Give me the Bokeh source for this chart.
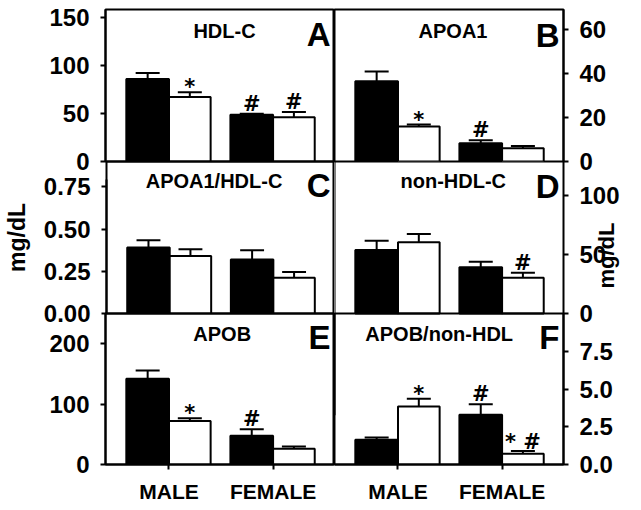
import math
from bokeh.plotting import figure
from bokeh.models import Range1d, FixedTicker, NumeralTickFormatter, Label, ColumnDataSource, Span
from bokeh.layouts import row, column
from bokeh.embed import file_html
from bokeh.resources import INLINE
from bokeh.core.properties import value
from bokeh.transform import dodge

groups = ["MALE", "FEMALE"]

# A: HDL-C
hdl_black = [85.8, 48.6]
hdl_black_sem = [6.2, 1.0]
hdl_white = [67.0, 46.0]
hdl_white_sem = [5.0, 5.5]
hdl_black_sig = ["", "#"]
hdl_white_sig = ["*", "#"]

# B: APOA1
apoa1_black = [36.5, 8.3]
apoa1_black_sem = [4.5, 1.4]
apoa1_white = [15.9, 6.0]
apoa1_white_sem = [0.9, 1.0]
apoa1_black_sig = ["", "#"]
apoa1_white_sig = ["*", ""]

# C: APOA1/HDL-C
ratio1_black = [0.391, 0.320]
ratio1_black_sem = [0.043, 0.055]
ratio1_white = [0.341, 0.211]
ratio1_white_sem = [0.040, 0.035]
ratio1_black_sig = ["", ""]
ratio1_white_sig = ["", ""]

# D: non-HDL-C
nonhdl_black = [53.6, 39.0]
nonhdl_black_sem = [7.9, 4.7]
nonhdl_white = [60.2, 30.2]
nonhdl_white_sem = [7.0, 4.2]
nonhdl_black_sig = ["", ""]
nonhdl_white_sig = ["", "#"]

# E: APOB
apob_black = [142.0, 47.5]
apob_black_sem = [13.7, 11.0]
apob_white = [72.0, 26.0]
apob_white_sem = [4.5, 4.0]
apob_black_sig = ["", "#"]
apob_white_sig = ["*", ""]

# F: APOB/non-HDL
ratio2_black = [1.64, 3.29]
ratio2_black_sem = [0.14, 0.70]
ratio2_white = [3.84, 0.72]
ratio2_white_sem = [0.52, 0.18]
ratio2_black_sig = ["", "#"]
ratio2_white_sig = ["*", "* #"]

FONT = "Liberation Sans"
SIG_FONT = "DejaVu Sans"
FRAME_H = 152
X0, X1 = -0.61, 1.59
PX_PER_X = 229 / (X1 - X0)


def sig_offset(s):
    if s == "*":
        return -5
    if s == "* #":
        return -9
    return -10


def label_bounds(center, ticks, y_end):
    lo = min(min(ticks), 2 * center - max(ticks))
    hi = 2 * center - lo
    if hi - lo > y_end:
        lo, hi = max(ticks) - y_end, max(ticks)
    return (lo, hi)


def make_panel(title, letter, black, black_sem, white, white_sem, black_sig, white_sig,
               y_end, ticks, fmt, side, rowpos, title_px, title_d, letter_d,
               ylabel_px=None, extend_px=0):
    left = side == "left"
    width = 334 if left else (305 if extend_px else 299)
    top_b = 9 if rowpos == 0 else 12
    bot_b = 12 if rowpos < 2 else 40
    frame_h = FRAME_H + extend_px
    height = top_b + frame_h + bot_b
    ppu = FRAME_H / y_end
    y_start = -extend_px / ppu
    p = figure(width=width, height=height,
               x_range=Range1d(X0, X1), y_range=Range1d(y_start, y_end),
               output_backend="svg", toolbar_location=None, tools="",
               y_axis_location=side,
               x_axis_location="below" if rowpos == 2 else None,
               min_border_left=105 if left else 0,
               min_border_right=0 if left else (76 if extend_px else 70),
               min_border_top=top_b, min_border_bottom=bot_b,
               background_fill_color=None, border_fill_color=None,
               outline_line_color=None if extend_px else "black", outline_line_width=2)
    p.xgrid.visible = False
    p.ygrid.visible = False
    if extend_px:
        p.add_layout(Span(location=X0, dimension="height", line_color="black", line_width=2))

    idx = list(range(len(groups)))
    src = ColumnDataSource(dict(
        g=idx,
        b=black, be=[v + s for v, s in zip(black, black_sem)],
        w=white, we=[v + s for v, s in zip(white, white_sem)],
        bs=black_sig, ws=white_sig,
        bo=[sig_offset(s) for s in black_sig],
        wo=[sig_offset(s) for s in white_sig],
    ))
    cap = 24 / PX_PER_X
    for off, top, err, sig, soff, fill, bw in [(-0.205, "b", "be", "bs", "bo", "black", 0.41),
                                               (0.2, "w", "we", "ws", "wo", "white", 0.40)]:
        p.segment(x0=dodge("g", off), y0=top, x1=dodge("g", off), y1=err, source=src,
                  line_color="black", line_width=2)
        p.segment(x0=dodge("g", off - cap / 2), y0=err, x1=dodge("g", off + cap / 2), y1=err,
                  source=src, line_color="black", line_width=2)
        p.vbar(x=dodge("g", off), top=top, bottom=0, width=bw, source=src,
               fill_color=fill, line_color="black", line_width=2)
        p.text(x=dodge("g", off), y=err, text=sig, y_offset=soff, source=src,
               text_align="center", text_baseline="alphabetic",
               text_font=value(SIG_FONT), text_font_style="bold", text_font_size="21px",
               text_color="black")

    for ax in p.axis:
        ax.axis_line_width = 2
        ax.axis_line_color = "black"
        ax.major_tick_line_width = 2
        ax.major_tick_line_color = "black"
        ax.major_tick_out = 5
        ax.major_tick_in = 0
        ax.minor_tick_line_color = None
        ax.major_label_text_font = FONT
        ax.major_label_text_font_style = "bold"
        ax.major_label_text_color = "black"

    p.yaxis.ticker = FixedTicker(ticks=ticks)
    p.yaxis.formatter = NumeralTickFormatter(format=fmt)
    p.yaxis.major_label_text_font_size = "24px"
    p.yaxis.major_label_standoff = 11
    if extend_px:
        p.yaxis.bounds = (0, y_end)

    if ylabel_px is not None:
        p.yaxis.axis_label = "mg/dL"
        p.yaxis.axis_label_text_font = FONT
        p.yaxis.axis_label_text_font_style = "bold"
        p.yaxis.axis_label_text_color = "black"
        if left:
            anchor = y_end - ylabel_px / ppu
            p.yaxis.bounds = label_bounds(anchor, ticks, y_end)
            p.yaxis.axis_label_text_font_size = "23px"
            p.yaxis.axis_label_standoff = 11
        else:
            p.yaxis.axis_label_text_font_size = "22px"
            p.yaxis.axis_label_standoff = -16
            p.yaxis.axis_label_orientation = math.pi / 2

    if rowpos == 2:
        p.xaxis.ticker = FixedTicker(ticks=idx)
        p.xaxis.major_label_overrides = {i: g for i, g in enumerate(groups)}
        p.xaxis.major_label_text_font_size = "21px"
        p.xaxis.major_label_standoff = 10

    p.add_layout(Label(x=X0 + title_px / PX_PER_X, y=y_end - title_d / ppu, text=title,
                       text_align="center", text_baseline="middle",
                       text_font=FONT, text_font_style="bold", text_font_size="20px",
                       text_color="black"))
    p.add_layout(Label(x=X0 + 225 / PX_PER_X, y=y_end - letter_d / ppu, text=letter,
                       text_align="right", text_baseline="middle",
                       text_font=FONT, text_font_style="bold", text_font_size="33px",
                       text_color="black"))
    return p


# the right-hand axis label of D is anchored at its frame's middle: the frame is
# extended below zero so that its middle sits where the label is in the original
D_LABEL_PX = 127
D_EXTEND = 2 * D_LABEL_PX - FRAME_H

pA = make_panel("HDL-C", "A", hdl_black, hdl_black_sem, hdl_white, hdl_white_sem,
                hdl_black_sig, hdl_white_sig, 158, [0, 50, 100, 150], "0", "left", 0, 119, 21, 25.2)
pB = make_panel("APOA1", "B", apoa1_black, apoa1_black_sem, apoa1_white, apoa1_white_sem,
                apoa1_black_sig, apoa1_white_sig, 69.2, [0, 20, 40, 60], "0", "right", 0, 118.5, 21, 26)
pC = make_panel("APOA1/HDL-C", "C", ratio1_black, ratio1_black_sem, ratio1_white, ratio1_white_sem,
                ratio1_black_sig, ratio1_white_sig, 0.9, [0, 0.25, 0.5, 0.75], "0.00", "left", 1, 108, 19, 24,
                ylabel_px=85)
pD = make_panel("non-HDL-C", "D", nonhdl_black, nonhdl_black_sem, nonhdl_white, nonhdl_white_sem,
                nonhdl_black_sig, nonhdl_white_sig, 128.5, [0, 50, 100], "0", "right", 1, 118.8, 19, 24.5,
                ylabel_px=D_LABEL_PX, extend_px=D_EXTEND)
pE = make_panel("APOB", "E", apob_black, apob_black_sem, apob_white, apob_white_sem,
                apob_black_sig, apob_white_sig, 250, [0, 100, 200], "0", "left", 2, 116.7, 20.3, 24.5)
pF = make_panel("APOB/non-HDL", "F", ratio2_black, ratio2_black_sem, ratio2_white, ratio2_white_sem,
                ratio2_black_sig, ratio2_white_sig, 10, [0, 2.5, 5, 7.5], "0.0", "right", 2, 104.7, 20.3, 24.5)

row2_height = max(pC.height, pD.height)
layout = column(
    row(pA, pB),
    row(pC, pD, margin=(-24, 0, 0, 0)),
    row(pE, pF, margin=(-(row2_height - FRAME_H - 12) - 12, 0, 0, 0)),
)

open("out.html", "w").write(file_html(layout, INLINE))
